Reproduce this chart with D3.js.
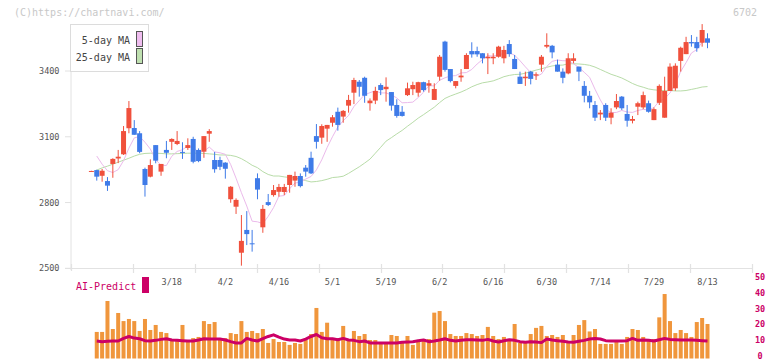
<!DOCTYPE html>
<html><head><meta charset="utf-8">
<script src="https://cdn.jsdelivr.net/npm/d3@7"></script>
<style>body{margin:0;background:#fff}svg{display:block}text{font-family:"DejaVu Sans Mono","Liberation Mono",monospace}</style>
</head><body><svg id="c" width="772" height="361"></svg>
<script>
const dates = ["2/25","2/26","2/27","2/28",
"3/3","3/4","3/5","3/6","3/7","3/10","3/11","3/12","3/13","3/14","3/17","3/18","3/19","3/21","3/24","3/25","3/26","3/27","3/28","3/31",
"4/1","4/2","4/3","4/4","4/7","4/8","4/9","4/10","4/11","4/14","4/15","4/16","4/17","4/18","4/21","4/22","4/23","4/24","4/25","4/28","4/30",
"5/1","5/2","5/7","5/8","5/9","5/12","5/13","5/14","5/15","5/16","5/19","5/20","5/21","5/22","5/23","5/26","5/27","5/28","5/29","5/30",
"6/2","6/3","6/4","6/5","6/6","6/9","6/10","6/11","6/12","6/13","6/16","6/17","6/18","6/19","6/20","6/23","6/24","6/25","6/26","6/27","6/30",
"7/1","7/2","7/3","7/4","7/7","7/8","7/9","7/10","7/11","7/14","7/15","7/16","7/17","7/18","7/22","7/23","7/24","7/25","7/28","7/29","7/30","7/31",
"8/1","8/4","8/5","8/6","8/7","8/8","8/12","8/13"];
const open = [2944,2948,2922,2898,2976,3001,3020,3139,3140,3116,
2953,2918,3062,2941,3040,3077,3067,3031,3049,3090,
3040,3032,3114,2994,2994,2982,2815,2781,2571,2675,
2614,2911,2687,2802,2834,2849,2848,2880,2900,2921,
2959,3004,3103,3096,3137,3164,3214,3192,3242,3301,
3351,3369,3253,3265,3336,3317,3304,3245,3214,3290,
3317,3301,3349,3333,3268,3374,3534,3409,3332,3371,
3409,3491,3491,3481,3458,3458,3465,3458,3523,3455,
3374,3367,3397,3379,3429,3511,3515,3429,3397,3389,
3446,3420,3332,3287,3245,3202,3245,3187,3234,3283,
3204,3173,3237,3234,3253,3176,3255,3187,3309,3321,
3446,3477,3532,3532,3529,3549];
const high = [2945,2950,2953,2916,3002,3040,3149,3263,3176,3126,
2959,2997,3062,2976,3081,3093,3126,3075,3093,3100,
3047,3103,3135,3031,3009,2984,2875,2819,2743,2761,
2675,2933,2789,2839,2880,2885,2885,2926,2941,2933,
2971,3032,3158,3157,3154,3199,3233,3222,3291,3369,
3359,3374,3275,3328,3344,3371,3304,3271,3240,3347,
3351,3351,3351,3359,3344,3473,3538,3409,3354,3409,
3481,3531,3511,3481,3481,3481,3515,3515,3541,3473,
3397,3397,3401,3394,3473,3572,3519,3452,3412,3481,
3481,3420,3354,3309,3263,3222,3253,3230,3295,3286,
3245,3195,3260,3306,3265,3234,3339,3374,3435,3435,
3511,3556,3564,3556,3614,3572];
const low = [2943,2900,2895,2853,2913,2980,3017,3116,3109,3025,
2827,2915,2979,2922,3002,3040,3062,2999,3040,2979,
2984,3004,3077,2936,2948,2909,2799,2748,2512,2606,
2576,2815,2662,2784,2827,2827,2834,2845,2872,2869,
2918,2930,3046,3068,3077,3146,3128,3164,3210,3249,
3283,3255,3219,3249,3290,3260,3219,3187,3192,3286,
3290,3283,3306,3301,3268,3356,3397,3348,3321,3351,
3409,3461,3465,3435,3386,3431,3461,3435,3465,3409,
3341,3332,3339,3359,3397,3504,3458,3397,3344,3385,
3435,3354,3257,3230,3172,3176,3172,3157,3226,3222,
3146,3161,3199,3226,3210,3176,3245,3187,3309,3310,
3397,3477,3511,3488,3511,3504];
const close = [2944,2918,2945,2877,2999,3009,3126,3231,3109,3031,
2880,2971,2991,2976,3027,3090,3081,3029,3062,2986,
2989,3103,3126,2952,2963,2954,2872,2812,2625,2656,
2610,2859,2771,2789,2857,2871,2871,2926,2921,2875,
2941,2933,3077,3149,3154,3189,3154,3218,3268,3359,
3328,3287,3265,3309,3313,3328,3242,3195,3195,3321,
3336,3349,3313,3344,3318,3465,3405,3354,3354,3379,
3473,3476,3476,3458,3465,3465,3511,3496,3477,3409,
3341,3374,3364,3385,3465,3519,3485,3397,3369,3458,
3458,3397,3287,3257,3187,3210,3187,3210,3263,3230,
3173,3181,3253,3290,3214,3226,3332,3309,3420,3424,
3506,3532,3526,3504,3587,3529];
const ma5 = [null,3012,2975,2945,2937,2950,2991,3048,3095,3101,
3075,3044,2996,2970,2969,3011,3033,3041,3058,3050,
3029,3034,3053,3031,3027,3020,2973,2911,2845,2784,
2715,2712,2704,2737,2777,2829,2832,2863,2889,2893,
2907,2919,2949,2995,3051,3100,3145,3173,3197,3238,
3265,3292,3301,3310,3300,3300,3291,3277,3255,3256,
3258,3279,3303,3333,3332,3358,3369,3377,3379,3391,
3393,3407,3432,3452,3470,3468,3475,3479,3483,3472,
3447,3419,3393,3375,3386,3421,3444,3450,3447,3446,
3433,3416,3394,3371,3317,3268,3226,3210,3211,3220,
3213,3211,3220,3225,3222,3233,3263,3274,3300,3342,
3398,3438,3482,3498,3531,3536];
const ma25 = [null,2948,2958,2966,2975,2984,2993,3002,3012,3020,
3024,3025,3025,3024,3022,3022,3023,3024,3025,3025,
3025,3024,3022,3020,3017,3017,3015,3010,3000,2986,
2970,2959,2941,2928,2921,2921,2917,2914,2912,2906,
2900,2894,2896,2900,2906,2914,2916,2920,2933,2948,
2963,2980,2998,3025,3052,3080,3096,3113,3129,3148,
3166,3185,3201,3218,3235,3256,3275,3286,3295,3304,
3315,3328,3338,3346,3350,3355,3364,3374,3380,3384,
3385,3390,3397,3404,3410,3417,3423,3426,3427,3433,
3433,3432,3430,3426,3418,3407,3396,3385,3377,3368,
3356,3343,3333,3326,3318,3314,3312,3310,3311,3309,
3309,3311,3316,3321,3327,3329];
const volume = [null,16.4,16.4,35.5,18.2,28.1,23.1,24.4,23.1,17.0,
24.4,17.6,20.7,16.4,15.7,10.8,10.8,20.7,10.2,12.6,
13.3,23.1,21.3,22.5,12.6,12.6,15.7,15.1,23.1,16.4,
17.0,15.7,18.2,9.6,12.0,10.2,10.2,8.4,9.6,9.0,
11.4,15.1,31.2,16.4,22.1,12.6,12.6,20.1,11.4,17.0,
13.9,15.1,11.4,11.4,10.2,10.2,14.5,13.9,9.6,13.9,
8.4,10.8,12.0,12.0,28.3,29.3,23.1,15.1,13.9,13.9,
15.7,15.1,13.9,14.5,19.5,13.9,12.0,13.3,10.8,21.3,
9.6,10.2,15.1,18.9,20.1,13.9,14.5,13.3,14.5,10.2,
14.5,20.7,23.7,16.7,18.2,9.0,9.0,9.0,10.2,9.0,
13.3,18.2,17.6,13.3,12.0,12.0,25.4,39.8,23.1,15.7,
17.6,15.7,13.3,22.5,25.0,21.3];
const aiPredict = [null,10.8,10.4,10.6,10.8,10.8,12.4,13.6,12.6,12.2,
11.0,10.8,11.2,11.8,12.2,11.4,11.2,11.0,10.8,10.8,
11.4,12.2,12.0,12.0,12.0,11.4,10.4,9.6,9.6,12.4,
11.4,10.8,12.2,13.6,14.6,13.2,12.0,11.4,11.4,10.8,
12.0,13.6,14.8,12.8,12.2,12.2,11.6,12.4,11.4,11.2,
10.4,10.8,9.6,9.6,9.6,9.6,9.6,9.6,10.0,10.2,
10.4,11.0,11.4,10.4,10.8,11.4,12.2,11.2,10.8,11.2,
11.6,11.6,11.4,11.2,11.8,10.8,10.2,11.0,11.6,11.2,
10.4,10.0,10.4,10.2,9.8,12.0,11.4,11.0,10.6,10.2,
10.0,10.6,11.2,12.0,12.4,12.0,11.0,10.8,10.8,10.8,
11.0,12.4,11.2,11.4,11.2,10.8,11.6,12.4,11.8,11.6,
11.4,11.4,11.4,11.2,11.0,10.8];
const dateTicks = ["3/18","4/2","4/16","5/1","5/19","6/2","6/16","6/30","7/14","7/29","8/13"];
const priceTicks = [2500,2800,3100,3400];
const predictTicks = [0,10,20,30,40,50];

const svg = d3.select("#c");
const step = 5.357;
const x = d3.scaleBand().domain(dates).range([91.4 - step/2, 707.5 + step/2]).padding(0);
const xc = d => x(d) + x.bandwidth()/2;
const y = d3.scaleLinear().domain([2500, 3400]).range([268.3, 71.0]);
const yb = d3.scaleLinear().domain([0, 50]).range([358.5, 277.5]);
const ybl = d3.scaleLinear().domain([0, 50]).range([358.6, 280.2]);
const grid = "#e2e2e2";

// watermark
svg.append("text").attr("x", 14).attr("y", 15.5).attr("font-size", 10).attr("fill", "#c8c8c8").text("(C)https://chartnavi.com/");
svg.append("text").attr("x", 757).attr("y", 16).attr("text-anchor", "end").attr("font-size", 10).attr("fill", "#c8c8c8").text("6702");

// axes lines
svg.append("line").attr("x1", 71).attr("x2", 71).attr("y1", 24).attr("y2", 270).attr("stroke", grid);
svg.append("line").attr("x1", 65).attr("x2", 752).attr("y1", 268.5).attr("y2", 268.5).attr("stroke", grid).attr("stroke-width", 1.2);
const xt = d3.scaleLinear().domain([0, 11]).range([71, 752]);
svg.selectAll(".xt").data(d3.range(12)).join("line")
  .attr("x1", d => Math.round(xt(d)) + 0.5).attr("x2", d => Math.round(xt(d)) + 0.5)
  .attr("y1", 264).attr("y2", d => d === 0 ? 271 : 273).attr("stroke", grid).attr("stroke-width", 1.2);
svg.selectAll(".yt").data(priceTicks).join("line")
  .attr("x1", 65).attr("x2", 71).attr("y1", d => y(d)).attr("y2", d => y(d)).attr("stroke", grid);
svg.selectAll(".yl").data(priceTicks).join("text")
  .attr("x", 59.5).attr("y", d => y(d) + 3).attr("text-anchor", "end").attr("font-size", 8.5).attr("fill", "#555").text(d => d);

// MA lines
const lineP = arr => d3.line().defined((d, i) => arr[i] != null).x((d, i) => xc(dates[i])).y((d, i) => y(arr[i]))(arr);
svg.append("path").attr("d", lineP(ma25)).attr("fill", "none").attr("stroke", "#b8dca8").attr("stroke-width", 1);
svg.append("path").attr("d", lineP(ma5)).attr("fill", "none").attr("stroke", "#ebbaeb").attr("stroke-width", 1);

// candles
const bw = 5;
const g = svg.append("g");
dates.forEach((d, i) => {
  const up = close[i] >= open[i];
  const col = up ? "#f0503c" : "#3f7be8";
  const cx = xc(d);
  g.append("rect").attr("x", cx - 0.5).attr("width", 1)
    .attr("y", y(high[i])).attr("height", Math.max(1, y(low[i]) - y(high[i]))).attr("fill", col);
  const top = y(Math.max(open[i], close[i])), bot = y(Math.min(open[i], close[i]));
  g.append("rect").attr("x", cx - bw/2).attr("width", bw)
    .attr("y", top).attr("height", Math.max(1, bot - top)).attr("fill", col);
});

// legend
svg.append("rect").attr("x", 70.5).attr("y", 24.5).attr("width", 78).attr("height", 47).attr("fill", "#fff").attr("stroke", "#dcdcdc");
svg.append("text").attr("x", 130).attr("y", 44).attr("text-anchor", "end").attr("font-size", 10).attr("fill", "#444").text("5-day MA");
svg.append("text").attr("x", 130).attr("y", 61).attr("text-anchor", "end").attr("font-size", 10).attr("fill", "#444").text("25-day MA");
svg.append("rect").attr("x", 136.5).attr("y", 31.5).attr("width", 6).attr("height", 15).attr("fill", "#efbdef").attr("stroke", "#555");
svg.append("rect").attr("x", 136.5).attr("y", 48.5).attr("width", 6).attr("height", 15).attr("fill", "#bfe0b0").attr("stroke", "#555");

// date labels
svg.selectAll(".dl").data(dateTicks).join("text")
  .attr("x", d => xc(d)).attr("y", 285).attr("text-anchor", "middle").attr("font-size", 8.5).attr("fill", "#555").text(d => d);

// AI-Predict label
svg.append("text").attr("x", 76).attr("y", 290).attr("font-size", 10).attr("fill", "#cc0066").text("AI-Predict");
svg.append("rect").attr("x", 142).attr("y", 277).attr("width", 7).attr("height", 16).attr("fill", "#cc0066");

// right axis labels
svg.selectAll(".rl").data(predictTicks).join("text")
  .attr("x", 760).attr("y", d => ybl(d)).attr("text-anchor", "middle").attr("font-size", 8.5).attr("font-weight", "bold").attr("fill", "#cc0066").text(d => d);

// volume bars
const vb = 4;
svg.selectAll(".vb").data(dates.filter((d, i) => volume[i] != null)).join("rect")
  .attr("x", d => xc(d) - vb/2).attr("width", vb)
  .attr("y", d => yb(volume[dates.indexOf(d)])).attr("height", d => yb(0) - yb(volume[dates.indexOf(d)]))
  .attr("fill", "#f0963c");

// AI predict line
const aiLine = d3.line().defined((d, i) => aiPredict[i] != null).x((d, i) => xc(dates[i])).y((d, i) => yb(aiPredict[i]));
svg.append("path").attr("d", aiLine(aiPredict)).attr("fill", "none").attr("stroke", "#cc0066").attr("stroke-width", 3).attr("stroke-linejoin", "round");
</script></body></html>
